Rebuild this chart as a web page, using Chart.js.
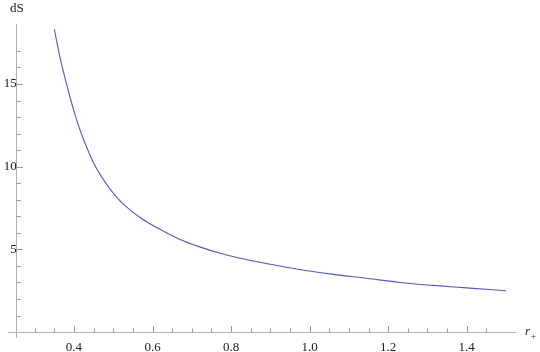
<!DOCTYPE html>
<html lang="en">
<head>
    <meta charset="UTF-8">
    <title>dS vs r+</title>
    <script src="https://cdn.jsdelivr.net/npm/chart.js"></script>
    <style>
        html, body {
            margin: 0;
            padding: 0;
            background: #ffffff;
        }
        .chart-box {
            width: 540px;
            height: 352px;
        }
    </style>
</head>
<body>
    <div class="chart-box">
        <canvas id="dsChart" width="540" height="352"></canvas>
    </div>

    <script>
        // values
        const rPlus = [0.35, 0.365, 0.38, 0.39, 0.40, 0.41, 0.42, 0.435, 0.45, 0.47, 0.49, 0.51, 0.53,
                       0.57, 0.62, 0.67, 0.72, 0.77, 0.82, 0.90, 0.97, 1.06, 1.145, 1.23, 1.315, 1.40, 1.50];
        const dS = [18.3, 16.55, 15.1, 14.2, 13.35, 12.6, 11.92, 11.02, 10.22, 9.4, 8.7, 8.12, 7.65,
                    6.9, 6.2, 5.6, 5.15, 4.78, 4.48, 4.1, 3.8, 3.49, 3.25, 3.0, 2.82, 2.67, 2.5];
        const xLabelTicks = [0.4, 0.6, 0.8, 1.0, 1.2, 1.4];
        const yLabelTicks = [5, 10, 15];

        const serif = "'Liberation Serif', 'Times New Roman', 'DejaVu Serif', serif";
        const axisGray = '#b0b0b0';

        const near = (v, list) => list.some(t => Math.abs(t - v) < 1e-6);

        // Mathematica style: tick marks point into the plot, axis titles at the ends
        const innerTicks = {
            id: 'innerTicks',
            afterDraw(chart) {
                const ctx = chart.ctx;
                const xs = chart.scales.x, ys = chart.scales.y;
                const axisY = ys.getPixelForValue(0);
                const yAxisX = xs.getPixelForValue(ys.options.position.x);
                ctx.save();
                ctx.strokeStyle = '#9a9a9a';
                ctx.lineWidth = 1;
                xs.ticks.forEach(t => {
                    const k = Math.round(t.value / 0.05);
                    if (Math.abs(k * 0.05 - t.value) > 1e-6) return;
                    const px = Math.round(xs.getPixelForValue(t.value)) + 0.5;
                    const len = near(t.value, xLabelTicks) ? 6 : 3.5;
                    ctx.beginPath();
                    ctx.moveTo(px, axisY);
                    ctx.lineTo(px, axisY - len);
                    ctx.stroke();
                });
                ys.ticks.forEach(t => {
                    if (Math.abs(Math.round(t.value) - t.value) > 1e-6 || t.value <= 0) return;
                    const py = Math.round(ys.getPixelForValue(t.value)) + 0.5;
                    const len = near(t.value, yLabelTicks) ? 6 : 4;
                    ctx.beginPath();
                    ctx.moveTo(yAxisX, py);
                    ctx.lineTo(yAxisX + len, py);
                    ctx.stroke();
                });

                ctx.fillStyle = '#222';
                ctx.font = '13px ' + serif;
                ctx.textAlign = 'center';
                ctx.textBaseline = 'middle';
                ctx.fillText('dS', yAxisX, 9);

                ctx.textAlign = 'left';
                ctx.font = 'italic 13px ' + serif;
                ctx.fillText('r', xs.right + 10, axisY);
                ctx.font = '9px ' + serif;
                ctx.fillText('+', xs.right + 16, axisY + 5);
                ctx.restore();
            }
        };

        const ctx = document.getElementById('dsChart').getContext('2d');
        new Chart(ctx, {
            type: 'scatter',
            data: {
                datasets: [{
                    data: rPlus.map((r, i) => ({ x: r, y: dS[i] })),
                    showLine: true,
                    borderColor: '#5656c2',
                    borderWidth: 1.1,
                    pointRadius: 0,
                    cubicInterpolationMode: 'monotone',
                    fill: false
                }]
            },
            options: {
                responsive: false,
                animation: false,
                layout: {
                    padding: { left: 8, top: 24, right: 25, bottom: 15 }
                },
                plugins: {
                    legend: { display: false },
                    tooltip: { enabled: false }
                },
                scales: {
                    x: {
                        type: 'linear',
                        min: 0.232,
                        max: 1.523,
                        position: { y: 0 },
                        grid: { display: false, drawTicks: false, tickLength: 0 },
                        border: { display: true, color: axisGray, width: 1 },
                        ticks: {
                            stepSize: 0.05,
                            autoSkip: false,
                            maxRotation: 0,
                            padding: 8,
                            color: '#222',
                            font: { family: serif, size: 13 },
                            callback: v => near(v, xLabelTicks) ? v.toFixed(1) : ''
                        }
                    },
                    y: {
                        type: 'linear',
                        min: -0.3,
                        max: 18.63,
                        position: { x: 0.2545 },
                        grid: { display: false, drawTicks: false, tickLength: 0 },
                        border: { display: true, color: axisGray, width: 1 },
                        ticks: {
                            stepSize: 1,
                            autoSkip: false,
                            padding: 4,
                            color: '#222',
                            font: { family: serif, size: 13 },
                            callback: v => near(v, yLabelTicks) ? String(v) : ''
                        }
                    }
                }
            },
            plugins: [innerTicks]
        });
    </script>
</body>
</html>
